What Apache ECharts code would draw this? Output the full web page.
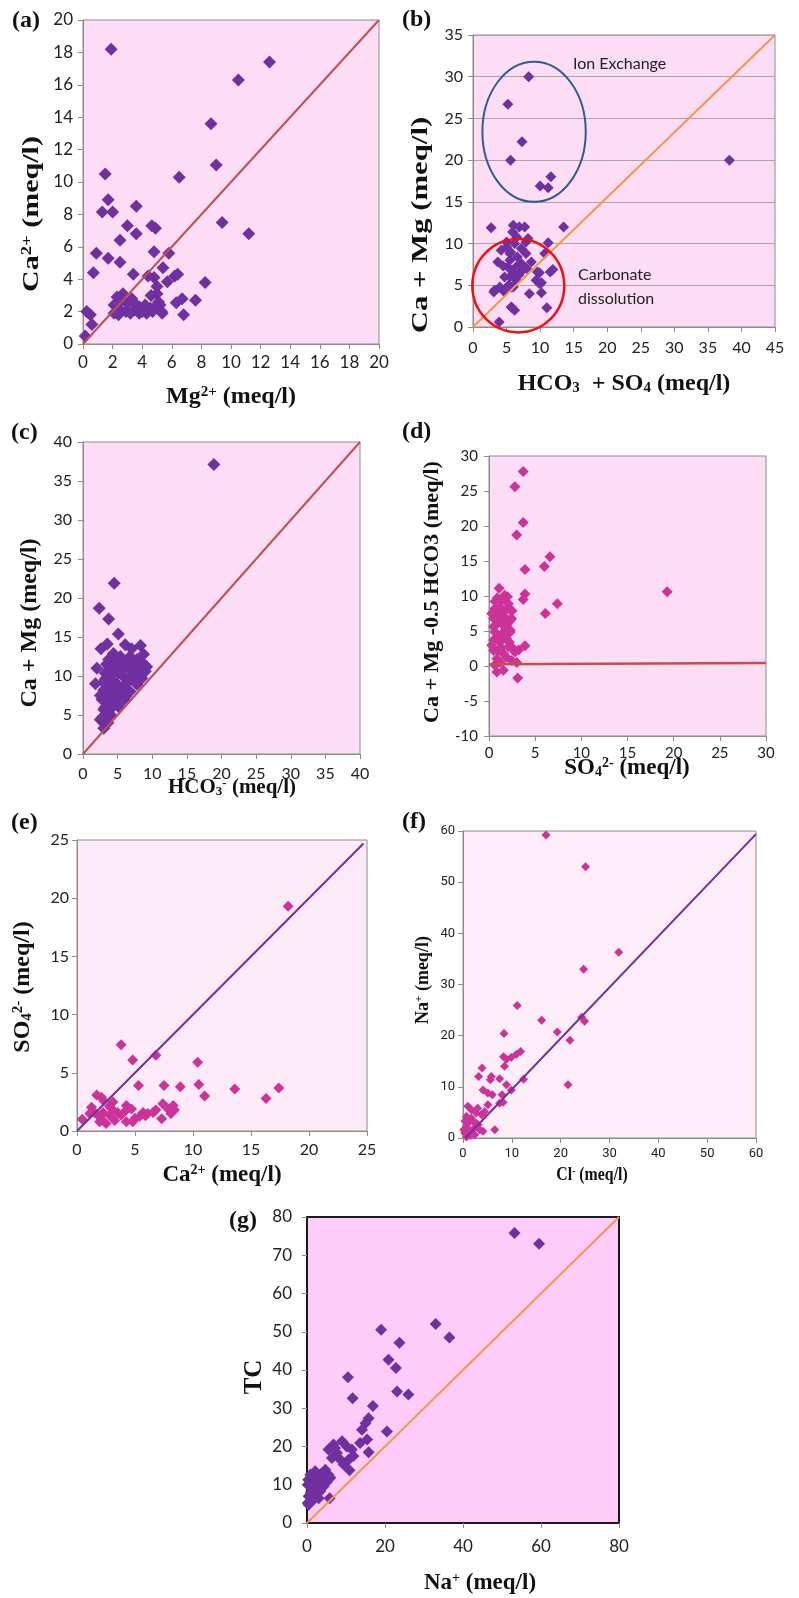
<!DOCTYPE html>
<html>
<head>
<meta charset="utf-8">
<title>Ionic ratio scatter plots</title>
<script src="https://cdn.jsdelivr.net/npm/echarts/dist/echarts.min.js"></script>
<style>
  html, body { margin: 0; padding: 0; background: #fff; }
  #chart { width: 799px; height: 1598px; }
</style>
</head>
<body>
<div id="chart"></div>
<script>
// ---- data (meq/l) ----
// (a) Mg2+ vs Ca2+
var mgCa = [[1.9,18.2],[12.6,17.4],[10.5,16.3],[8.65,13.6],[9.0,11.05],[6.5,10.3],[1.5,10.5],[1.7,8.9],[1.3,8.15],[2.0,8.15],
  [3.6,8.5],[3.0,7.3],[3.6,6.8],[4.65,7.3],[4.9,7.15],[9.4,7.5],[11.2,6.8],[2.5,6.4],[0.9,5.6],[1.7,5.3],[2.5,5.05],[4.8,5.7],
  [5.8,5.6],[0.7,4.4],[3.4,4.3],[5.4,4.7],[4.4,4.2],[4.8,4.1],[6.2,4.2],[6.4,4.3],[5.7,3.85],[8.25,3.8],[5.0,3.55],[5.0,3.1],
  [0.15,0.5],[0.25,2.0],[0.5,1.8],[0.6,1.2],[6.7,2.8],[7.6,2.7],[6.3,2.55],[6.8,1.8],[2.3,2.9],[2.7,3.1],[2.1,2.4],[2.5,2.1],
  [3.0,2.5],[3.3,2.8],[3.2,1.9],[3.8,2.3],[4.2,2.4],[4.55,2.2],[4.9,2.3],[5.2,2.4],[5.35,1.9],[4.3,1.9],[3.8,1.9],[2.1,1.9],
  [2.4,1.8],[2.9,2.0],[3.5,2.1],[4.0,2.0],[4.7,2.0],[5.1,2.6],[5.3,2.0],[2.6,2.7],[3.4,2.6],[4.6,3.0]];
var lineA = [[0,0],[20,20]];

// (b) HCO3 + SO4 vs Ca + Mg
var anionCation = [[8.3,30],[5.2,26.7],[7.3,22.2],[5.6,20],[10.0,16.9],[11.2,16.7],[11.6,18],[38.2,20],[2.7,11.9],[13.5,12],
  [6.0,12.2],[6.9,12.0],[7.7,12.0],[5.9,11.4],[6.5,10.8],[5.0,10.2],[8.2,10.6],[11.2,10.1],[7.9,10.2],[4.2,9.2],[5.5,8.8],
  [7.2,9.4],[10.7,8.8],[7.9,8.8],[5.0,9.6],[3.7,7.8],[5.2,7.2],[7.2,7.6],[8.7,7.8],[5.5,8.0],[6.4,7.2],[7.4,6.8],[4.5,7.3],
  [11.9,6.9],[11.5,6.6],[9.9,6.5],[9.6,6.6],[4.7,6.0],[6.45,5.6],[5.5,6.0],[9.4,5.6],[10.2,5.3],[9.9,5.2],[3.2,4.4],[4.5,4.4],
  [5.7,4.8],[6.0,4.8],[4.0,4.8],[3.1,4.2],[4.6,4.3],[8.4,4.0],[10.2,4.1],[5.7,2.4],[6.2,2.0],[5.8,2.3],[11.0,2.3],[3.9,0.6],
  [6.2,10.0],[5.6,9.0],[6.6,8.4],[5.9,6.6],[5.3,5.0],[6.8,6.2],[8.0,7.0]];
var lineB = [[0,0],[45,35]];
// ellipses: centre x, centre y, half-width, half-height
var ionEllipse = [9.1, 23.4, 7.7, 8.4];
var carbEllipse = [6.75, 4.95, 6.85, 5.6];

// (c) HCO3- vs Ca + Mg
var hco3CaMg = [[18.9,37.1],[4.5,21.9],[2.35,18.7],[3.7,17.3],[5.1,15.4],[2.6,13.5],[3.5,14.1],[6.1,14.0],[8.3,13.9],[8.75,12.8],
  [9.2,11.2],[2.0,11.0],[1.8,9.0],[3.2,9.6],[2.5,4.4],[3.0,3.3],[2.7,4.6],[4.4,12.9],[5.4,12.5],[6.8,12.5],[7.8,12.1],[9.0,10.6],
  [8.5,9.7],[7.8,8.9],[6.8,8.0],[5.9,7.0],[5.1,6.1],[3.9,5.7],[3.0,5.7],[2.75,7.0],[3.0,8.2],[4.2,7.8],[4.9,9.0],[5.9,9.9],
  [6.8,10.8],[4.4,11.2],[5.9,11.2],[3.7,12.1],[7.3,9.5],[6.3,9.1],[3.9,9.9],[5.1,10.4],[3.5,6.5],[4.4,6.5],[5.4,7.8],[4.4,8.6],
  [7.8,10.8],[2.5,7.5],[3.2,10.4],[6.4,12.0],[7.0,13.5],[8.8,11.5],[4.0,5.0],[3.6,4.0],
  [3.4,11.5],[4.8,11.8],[6.0,11.8],[7.2,11.2],[8.0,11.0],[8.6,10.4],[4.0,10.8],[5.6,10.2],[6.6,9.6],[7.6,10.0],
  [3.4,8.8],[4.8,8.2],[5.8,8.4],[6.2,7.4],[3.8,7.2],[4.6,6.9],[5.0,7.4],[3.2,6.0],[4.2,9.4],[3.0,9.2]];
var lineC = [[0,0],[40,40]];

// (d) SO4 2- vs Ca + Mg - 0.5 HCO3
var so4Excess = [[3.7,27.8],[2.8,25.6],[3.7,20.5],[3.0,18.7],[6.6,15.6],[6.0,14.2],[3.9,13.8],[19.3,10.6],[3.9,10.3],[3.7,9.5],
  [7.4,8.9],[6.1,7.5],[1.1,11.1],[3.9,2.9],[3.1,-1.7],[0.85,-0.85],[1.55,-0.6],[3.0,0.5],[2.8,2.0],[3.2,2.3],[1.7,10.1],[1.4,9.4],
  [2.1,8.9],[0.65,8.2],[1.2,8.4],[2.3,8.0],[0.3,7.5],[1.0,7.2],[1.7,7.0],[2.45,6.8],[0.85,6.05],[1.55,5.8],[0.65,4.85],[1.4,4.6],
  [2.3,4.85],[0.5,3.7],[1.2,3.4],[1.9,3.9],[0.3,2.95],[1.0,2.25],[1.55,1.8],[0.85,1.05],[1.2,0.55],[0.65,0.1],[2.45,0.8],
  [2.1,2.7],[1.0,6.5],[0.5,5.6],[1.9,5.3],[0.65,9.2],[1.55,7.7],[2.0,9.9],[2.5,7.9],[2.3,6.5],[2.3,5.1],[2.6,2.5],
  [0.9,9.7],[1.8,8.0],[0.5,6.8],[1.3,6.2],[2.0,6.0],[0.9,4.2],[1.7,4.3],[2.2,3.4],[0.5,2.2],[1.3,2.6],[1.9,1.2],[0.9,0.5]];
var lineD = [[0,0.25],[30,0.43]];

// (e) Ca2+ vs SO4 2-
var caSo4 = [[18.2,19.3],[3.8,7.4],[4.8,6.1],[6.8,6.5],[10.4,5.9],[5.3,3.9],[7.5,3.9],[8.9,3.8],[10.5,4.0],[11.0,3.0],[13.6,3.6],
  [17.4,3.7],[16.3,2.8],[0.45,1.0],[1.1,1.5],[1.7,3.1],[2.1,2.9],[3.1,2.5],[4.25,2.2],[7.4,2.35],[8.3,2.2],[8.4,1.8],[8.1,1.5],
  [7.3,1.05],[5.7,1.6],[6.55,1.6],[4.8,0.8],[4.25,0.8],[1.95,0.8],[2.25,1.6],[2.8,1.35],[3.5,1.6],[1.95,1.2],[2.5,0.65],[3.25,0.9],
  [3.8,1.35],[4.7,1.9],[5.4,1.25],[6.1,1.5],[6.8,1.8],[7.85,1.9],[1.5,1.6],[4.25,1.8],[2.8,2.1],[1.25,2.05],[2.3,2.6],[5.0,1.1],
  [3.0,1.9],[5.9,1.3],[2.1,1.0]];
var lineE = [[0,0],[24.7,24.7]];

// (f) Cl- vs Na+
var clNa = [[17.0,59.2],[25.1,53.0],[31.9,36.3],[24.7,33.0],[11.1,25.9],[16.1,23.0],[24.3,23.6],[24.9,22.8],[19.3,20.7],[21.9,19.1],
  [8.4,20.4],[21.5,10.4],[12.4,11.5],[11.8,16.9],[10.9,16.3],[9.9,15.8],[8.9,15.4],[8.3,15.9],[8.5,14.0],[3.9,13.7],[3.2,12.0],
  [5.6,11.4],[5.8,12.0],[7.5,11.6],[8.9,10.4],[4.1,9.4],[5.1,8.8],[6.0,8.45],[9.9,9.4],[8.0,8.45],[8.2,7.0],[7.5,6.8],[5.1,6.5],
  [6.5,1.6],[1.0,6.2],[1.7,5.5],[0.7,4.2],[2.7,4.9],[3.8,4.55],[2.05,3.25],[0.7,2.3],[0.35,1.0],[1.4,1.3],[2.4,0.65],[3.4,1.6],
  [4.1,1.3],[3.1,2.6],[4.4,5.2],[1.7,3.9],[0.7,0.2],[2.7,2.9],[0.15,1.6],[1.0,2.9],[3.0,5.8],[1.5,0.5],[2.2,1.8],[0.4,3.3]];
var lineF = [[0.5,0],[60,59.4]];

// (g) Na+ vs TC
var naTc = [[53.2,75.8],[59.5,73.0],[33.0,52.0],[36.5,48.5],[19.0,50.5],[23.7,47.1],[20.9,42.7],[22.8,40.5],[10.5,38.1],[23.1,34.4],
  [26.0,33.6],[11.7,32.6],[16.9,30.6],[15.8,27.4],[15.0,26.1],[14.1,24.4],[15.4,21.8],[13.6,20.9],[20.5,23.9],[15.8,18.5],
  [10.9,13.8],[5.8,6.5],[5.5,19.2],[6.8,20.5],[9.0,21.4],[10.2,20.0],[11.5,19.2],[11.9,17.5],[7.7,18.3],[6.4,17.0],[8.5,16.6],
  [9.4,15.3],[10.7,16.6],[7.2,19.6],[0.85,12.6],[2.55,12.2],[4.7,13.9],[3.85,11.3],[5.5,12.6],[1.7,10.3],[0.2,10.0],[3.0,9.6],
  [5.1,10.7],[0.4,7.0],[2.1,7.4],[0.2,5.2],[0.85,5.7],[3.4,8.3],[1.3,11.3],[0.3,11.3],[4.3,9.6],[2.1,13.5],[6.0,11.8],[0.85,7.4],
  [0.4,4.8],[3.0,6.5],[1.5,8.5],[2.5,10.5],[1.2,9.0],[2.8,11.8],[3.6,12.8],[4.2,11.5],[1.8,6.2],[2.6,8.5],[4.8,12.2],[1.0,8.0]];
var lineG = [[0,0],[80,80]];

// ---- styling ----
var PURPLE = '#7030A0', MAGENTA = '#CC3399', RED = '#C0504D', ORANGE = '#F79646';
var sans = 'Lato, "Open Sans", sans-serif';
var serif = '"Liberation Serif", "Times New Roman", serif';

var panels = [
  {grid:{left:83,top:20,width:296,height:324}, bg:'#FDDDF5', x:[0,20,2], y:[0,20,2], fs:17, xm:10, ym:10,
   pts:mgCa, pc:PURPLE, ps:13, line:lineA, lc:RED},
  {grid:{left:473,top:35,width:302,height:292}, bg:'#FDDDF5', x:[0,45,5], y:[0,35,5], fs:16, xm:13, ym:10,
   pts:anionCation, pc:PURPLE, ps:11, line:lineB, lc:ORANGE, split:true},
  {grid:{left:83,top:442,width:277,height:312}, bg:'#FDDDF5', x:[0,40,5], y:[0,40,5], fs:16, xm:12, ym:11,
   pts:hco3CaMg, pc:PURPLE, ps:13, line:lineC, lc:RED},
  {grid:{left:489,top:456,width:277,height:280}, bg:'#FDDDF6', x:[0,30,5], y:[-10,30,5], fs:15, xm:10, ym:11,
   pts:so4Excess, pc:MAGENTA, ps:11, line:lineD, lc:RED, lw:2.5},
  {grid:{left:77,top:840,width:290,height:291}, bg:'#FDEAF8', x:[0,25,5], y:[0,25,5], fs:16, xm:11, ym:8,
   pts:caSo4, pc:MAGENTA, ps:11, line:lineE, lc:PURPLE},
  {grid:{left:463,top:831,width:293,height:307}, bg:'#FDEDF9', x:[0,60,10], y:[0,60,10], fs:13, xm:9, ym:8,
   pts:clNa, pc:MAGENTA, ps:9, line:lineF, lc:PURPLE, narrow:true},
  {grid:{left:307,top:1217,width:312,height:306}, bg:'#FECCF8', x:[0,80,20], y:[0,80,10], fs:17, xm:15, ym:15,
   pts:naTc, pc:PURPLE, ps:12, line:lineG, lc:ORANGE, dark:true}
];

var grids = [], xAxes = [], yAxes = [], series = [];
panels.forEach(function (p, i) {
  var edge = p.dark ? '#1a1a1a' : '#8c8c8c';
  grids.push(Object.assign({show:true, backgroundColor:p.bg, borderColor:edge, borderWidth:p.dark ? 2 : 1}, p.grid));
  var lbl = {fontFamily: p.narrow ? '"Liberation Sans Narrow", "Arial Narrow", Roboto, sans-serif' : sans,
             fontSize: p.fs, color:'#222'};
  var axLine = {show:true, onZero:false, lineStyle:{color:edge, width:p.dark ? 2 : 1}};
  var tick = {show:true, length:5, lineStyle:{color:'#8c8c8c'}};
  xAxes.push({type:'value', gridIndex:i, min:p.x[0], max:p.x[1], interval:p.x[2],
    axisLine:axLine, axisTick:tick, splitLine:{show:false},
    axisLabel:Object.assign({margin:p.xm}, lbl)});
  yAxes.push({type:'value', gridIndex:i, min:p.y[0], max:p.y[1], interval:p.y[2],
    axisLine:axLine, axisTick:tick,
    splitLine:{show:!!p.split, lineStyle:{color:'#a6a6a6', width:1}},
    axisLabel:Object.assign({margin:p.ym}, lbl)});
  series.push({type:'scatter', xAxisIndex:i, yAxisIndex:i, data:p.pts, symbol:'diamond',
    symbolSize:p.ps, itemStyle:{color:p.pc, opacity:1}, z:2});
  series.push({type:'line', xAxisIndex:i, yAxisIndex:i, data:p.line, symbol:'none',
    lineStyle:{color:p.lc, width:p.lw || 2}, z:3, silent:true});
});

function ellipseSeries(d, color, width) {
  return {
    type:'custom', xAxisIndex:1, yAxisIndex:1, data:[d], clip:false, z:4, silent:true,
    encode:{x:0, y:1},
    renderItem:function (params, api) {
      var c = api.coord([api.value(0), api.value(1)]);
      var s = api.size([api.value(2), api.value(3)]);
      return {type:'ellipse', shape:{cx:c[0], cy:c[1], rx:s[0], ry:s[1]},
              style:{fill:'none', stroke:color, lineWidth:width}};
    }
  };
}
series.push(ellipseSeries(ionEllipse, '#2F5C8F', 2));
series.push(ellipseSeries(carbEllipse, '#F01010', 2.5));

// ---- text: panel letters and axis titles ----
function sText(x, y, text, size, opts) {
  opts = opts || {};
  var sub = {fontSize:Math.round(size*0.62), fontFamily:serif, fontWeight:'bold', fill:'#111'};
  return {
    type:'text', x:x, y:y, rotation:opts.rot ? Math.PI/2 : 0, scaleX:opts.sx || 1, z:10,
    style:{
      text:text, fontFamily:serif, fontWeight:'bold', fontSize:size, fill:'#111',
      align:opts.left ? 'left' : 'center', verticalAlign:'middle',
      rich:{
        sup:Object.assign({verticalAlign:'top'}, sub),
        sub:Object.assign({verticalAlign:'bottom'}, sub),
        n:{fontSize:size, fontFamily:serif, fontWeight:'bold', fill:'#111'}
      }
    }
  };
}
function note(x, y, text) {
  return {type:'text', x:x, y:y, z:10,
    style:{text:text, fontFamily:sans, fontSize:16, fill:'#222', align:'left', verticalAlign:'middle'}};
}

var texts = [
  sText(12, 21, '(a)', 24, {left:true}),
  sText(402, 20, '(b)', 24, {left:true}),
  sText(11, 433, '(c)', 24, {left:true}),
  sText(402, 432, '(d)', 24, {left:true}),
  sText(11, 823, '(e)', 24, {left:true}),
  sText(402, 822, '(f)', 24, {left:true}),
  sText(229, 1221, '(g)', 24, {left:true}),

  sText(231, 397, '{n|Mg}{sup|2+}{n| (meq/l)}', 24),
  sText(32, 214, '{n|Ca}{sup|2+}{n| (meq/l)}', 24, {rot:true, sx:1.25}),

  sText(624, 384, '{n|HCO}{sub|3}{n|  + SO}{sub|4}{n| (meq/l)}', 24),
  sText(421, 225, 'Ca + Mg (meq/l)', 24, {rot:true, sx:1.28}),

  sText(232, 788, '{n|HCO}{sub|3}{sup|-}{n| (meq/l)}', 21),
  sText(30, 623, 'Ca + Mg (meq/l)', 24, {rot:true}),

  sText(627, 768, '{n|SO}{sub|4}{sup|2-}{n| (meq/l)}', 23),
  sText(432, 592, 'Ca + Mg -0.5 HCO3 (meq/l)', 22, {rot:true}),

  sText(222, 1175, '{n|Ca}{sup|2+}{n| (meq/l)}', 23),
  sText(23, 987, '{n|SO}{sub|4}{sup|2-}{n| (meq/l)}', 24, {rot:true}),

  sText(592, 1175, '{n|Cl}{sup|-}{n| (meq/l)}', 18, {sx:0.88}),
  sText(423, 980, '{n|Na}{sup|+}{n| (meq/l)}', 18, {rot:true}),

  sText(480, 1583, '{n|Na}{sup|+}{n| (meq/l)}', 23),
  sText(255, 1377, 'TC', 25, {rot:true}),

  note(573, 64, 'Ion Exchange'),
  note(578, 275, 'Carbonate'),
  note(578, 299, 'dissolution')
];

var chart = echarts.init(document.getElementById('chart'));
chart.setOption({
  animation:false,
  backgroundColor:'#ffffff',
  grid:grids,
  xAxis:xAxes,
  yAxis:yAxes,
  series:series,
  graphic:{elements:texts}
});
</script>
</body>
</html>
